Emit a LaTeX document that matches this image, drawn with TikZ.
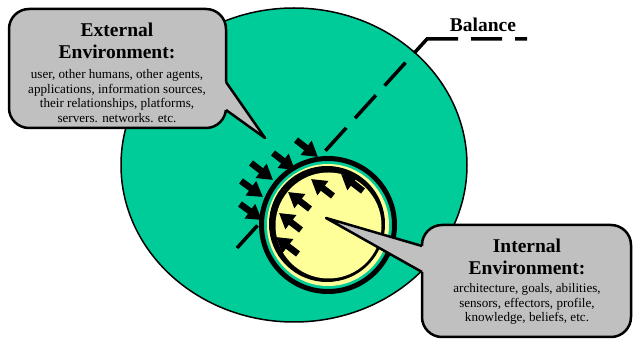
\documentclass[tikz,border=0pt]{standalone}
\usepackage{fontspec}
\setmainfont{Liberation Serif}
\usetikzlibrary{arrows.meta}
\definecolor{umwelt}{RGB}{0,204,153}
\definecolor{kern}{RGB}{255,255,153}
\definecolor{blase}{RGB}{192,192,192}

\begin{document}
\begin{tikzpicture}[x=1pt,y=-1pt,
	push/.style={line width=6.5pt, -{Triangle[length=15pt,width=17pt]}},
	kopf/.style={font=\fontsize{19.5}{22}\selectfont\bfseries, align=center, inner sep=0pt},
	liste/.style={font=\fontsize{13.1}{14.6}\selectfont, align=center, inner sep=0pt}]
	\useasboundingbox (0,0) rectangle (633,339);
	% outer environment
	\draw[fill=umwelt, line width=1.5pt] (294,165) ellipse (173 and 157);
	% balance line
	\draw[line width=3.5pt, dash pattern=on 12pt off 13pt on 31pt off 13pt on 50pt off 13pt on 31pt off 13pt on 31pt off 13pt on 31pt off 13pt on 31pt off 13pt on 31pt off 13pt on 31pt off 13pt on 31pt off 13pt]
		(527,39) -- (427,39) -- (237,248);
	\node[kopf] (B) at (483,25) {Balance};
	% agent
	\draw[fill=umwelt, line width=5pt] (328,225) circle (66.5);
	\fill[kern] (328,225) circle (61);
	\fill (327,224) circle (58);
	\fill[kern] (328.5,225.5) circle (53);
		% pressure from outside
		\draw[push] (296,140) -- (318,157);
		\draw[push] (273,153) -- (295,170);
		\draw[push] (251,163) -- (273,180);
		\draw[push] (241,181) -- (263,197);
		\draw[push] (240,204) -- (262,220);
		% pressure from inside
		\draw[push] (363,191) -- (341,174);
		\draw[push] (333,196) -- (311,179);
		\draw[push] (310,209) -- (288,192);
		\draw[push] (301,230) -- (279,213);
		\draw[push] (298,254) -- (276,237);
	% external callout
	\draw[fill=blase, line width=2.5pt, rounded corners=20pt] (9,9) rectangle (226,128);
	\fill[blase] (221,82) -- (226,82) -- (265,138) -- (226,110) -- (221,110) -- cycle;
	\draw[line width=2.5pt, line join=round] (226,82) -- (265,138) -- (226,110);
	\node[kopf] (EK) at (117,41) {External\\Environment:};
	\node[liste] (EL) at (117,96) {user, other humans, other agents,\\applications, information sources,\\their relationships, platforms,\\servers. networks. etc.};
	% internal callout
	\draw[fill=blase, line width=2.5pt, rounded corners=20pt] (422,225) rectangle (631,337);
	\fill[blase] (427,246) -- (422,246) -- (326,218) -- (422,272) -- (427,272) -- cycle;
	\draw[line width=2.5pt, line join=round] (422,246) -- (326,218) -- (422,272);
	\node[kopf] (IK) at (527,257) {Internal\\Environment:};
	\node[liste] (IL) at (527,304) {architecture, goals, abilities,\\sensors, effectors, profile,\\knowledge, beliefs, etc.};
\end{tikzpicture}
\end{document}
